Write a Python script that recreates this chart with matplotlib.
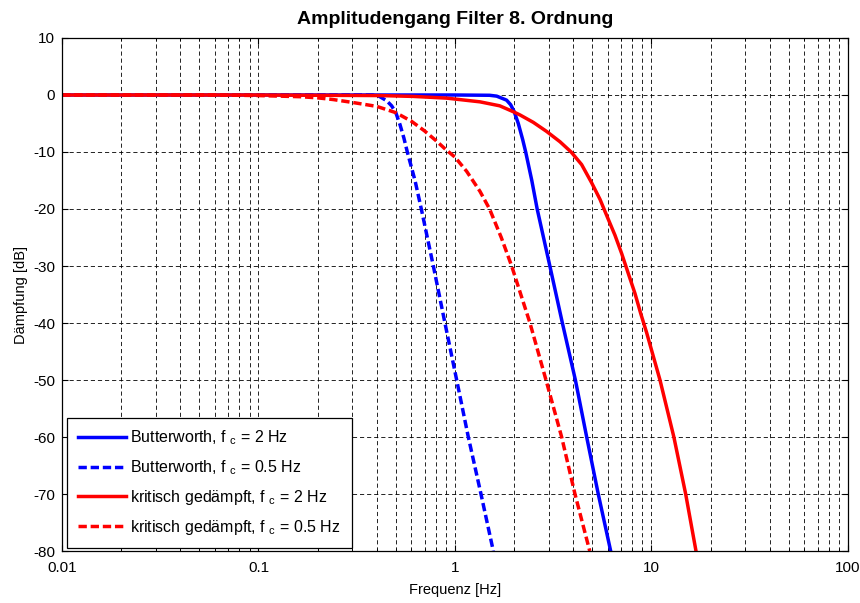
import matplotlib
matplotlib.use("Agg")
import matplotlib.pyplot as plt

plt.rcParams['font.family'] = ['Liberation Sans', 'DejaVu Sans']
plt.rcParams['mathtext.fontset'] = 'custom'
plt.rcParams['mathtext.rm'] = 'Liberation Sans'
plt.rcParams['mathtext.it'] = 'Liberation Sans'
plt.rcParams['axes.unicode_minus'] = False

# values (frequency in Hz, attenuation in dB)
bw2_f = [0.01, 0.1, 1.0, 1.5, 1.63, 1.83, 1.92, 2.0, 2.10, 2.21, 2.29, 2.46, 2.62, 3.04, 3.52, 4.10, 4.68, 5.36, 6.20]
bw2_db = [0, 0, 0, -0.05, -0.2, -0.9, -1.7, -2.9, -5.0, -7.8, -10, -15, -20, -30, -40, -50, -60, -70, -80]

bw05_f = [0.01, 0.1, 0.3, 0.38, 0.41, 0.449, 0.476, 0.50, 0.525, 0.550, 0.572, 0.626, 0.674, 0.776, 0.889, 1.02, 1.169, 1.356, 1.567]
bw05_db = [0, 0, 0, 0, -0.2, -1, -1.9, -3.1, -5.2, -7.6, -10, -15, -20, -30, -40, -50, -60, -70, -80]

kd2_f = [0.01, 0.1, 0.415, 0.614, 0.908, 1.34, 1.69, 2.0, 2.142, 2.504, 2.928, 3.422, 3.90, 4.41, 4.96, 5.47,
         5.96, 6.52, 7.05, 7.62, 8.24, 8.81, 9.45, 11.05, 13.0, 14.93, 16.85]
kd2_db = [0, 0, -0.1, -0.25, -0.55, -1.2, -1.9, -3.0, -3.5, -4.8, -6.4, -8.2, -10, -12.2, -15.4, -18.3,
          -21.4, -24.6, -27.8, -31.3, -34.8, -38.3, -41.7, -50, -60, -70, -80]

kd05_f = [0.01, 0.06, 0.1, 0.163, 0.2, 0.24, 0.3, 0.4, 0.5, 0.6, 0.7, 0.8, 0.9, 1.0, 1.147, 1.34, 1.50, 1.72,
          1.943, 2.408, 2.905, 3.49, 4.08, 4.85]
kd05_db = [0, 0, -0.1, -0.3, -0.5, -0.8, -1.3, -2.0, -3.1, -4.6, -6.3, -8.0, -9.6, -10.9, -13.4, -16.9, -20, -25,
           -30, -40, -50, -60, -70, -80]

labels = ['Butterworth, f $_\\mathrm{c}$ = 2 Hz',
          'Butterworth, f $_\\mathrm{c}$ = 0.5 Hz',
          'kritisch gedämpft, f $_\\mathrm{c}$ = 2 Hz',
          'kritisch gedämpft, f $_\\mathrm{c}$ = 0.5 Hz']

fig = plt.figure(figsize=(8.6, 6.03), dpi=100)
ax = fig.add_axes([0.0721, 0.0862, 0.9139, 0.8508])

lw = 2.5
dash = (0, (2.4, 1.1))
ax.plot(bw2_f, bw2_db, color='#0000ff', lw=lw, label=labels[0])
ax.plot(bw05_f, bw05_db, color='#0000ff', lw=lw, linestyle=dash, label=labels[1])
ax.plot(kd2_f, kd2_db, color='#ff0000', lw=lw, label=labels[2])
ax.plot(kd05_f, kd05_db, color='#ff0000', lw=lw, linestyle=dash, label=labels[3])

ax.set_xscale('log')
ax.set_xlim(0.01, 100)
ax.set_ylim(-80, 10)
ax.set_yticks(range(-80, 11, 10))
ax.set_xticks([0.01, 0.1, 1, 10, 100])
ax.set_xticklabels(['0.01', '0.1', '1', '10', '100'])

ax.grid(which='major', axis='both', color='k', linestyle=(0, (5, 3.5)), linewidth=0.6)
ax.grid(which='minor', axis='x', color='k', linestyle=(0, (5, 3.5)), linewidth=0.6)
ax.tick_params(which='both', direction='in', top=True, right=True, labelsize=11)
ax.tick_params(which='major', length=4)
ax.tick_params(which='minor', length=2.5)
ax.tick_params(axis='x', pad=7)
ax.tick_params(axis='y', pad=5)
for s in ax.spines.values():
    s.set_linewidth(0.9)

ax.set_title('Amplitudengang Filter 8. Ordnung', fontsize=14, fontweight='bold', pad=10)
ax.set_xlabel('Frequenz [Hz]', fontsize=10.5, labelpad=6)
ax.set_ylabel('Dämpfung [dB]', fontsize=10.5, labelpad=4)

leg = ax.legend(loc='lower left', bbox_to_anchor=(0.006, 0.006), borderaxespad=0,
                fontsize=11.5, handlelength=3.0, fancybox=False, framealpha=1,
                edgecolor='k', labelspacing=0.68, borderpad=0.7, handletextpad=0.25)
leg.get_frame().set_linewidth(0.9)

fig.savefig('out.png', dpi=100)
